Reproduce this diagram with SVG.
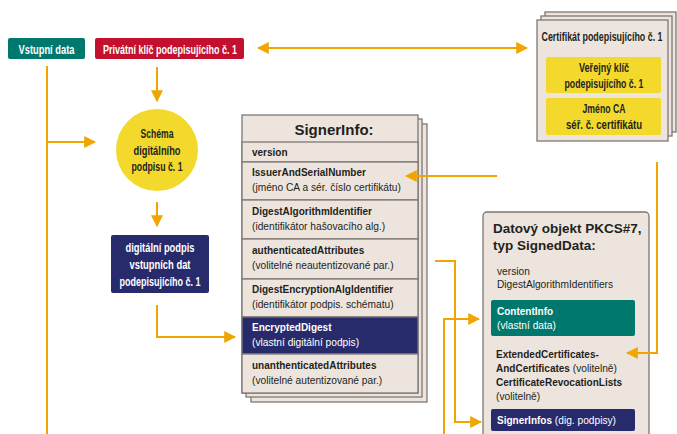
<svg xmlns="http://www.w3.org/2000/svg" width="677" height="434" viewBox="0 0 677 434">
<defs>
<marker id="ah" viewBox="0 0 10 10" refX="9" refY="5" markerWidth="6" markerHeight="6.5" orient="auto-start-reverse" markerUnits="strokeWidth">
<path d="M0,0 L10,5 L0,10 Z" fill="#f0a500"/>
</marker>
<style>
.cn{font-family:"Liberation Sans",Arial,sans-serif;font-weight:bold}
.sb{font-family:"Liberation Sans",Arial,sans-serif;font-weight:bold;font-size:10px;fill:#231f20}
.sr{font-family:"Liberation Sans",Arial,sans-serif;font-size:10.2px;fill:#231f20}
.w{fill:#ffffff}
.d{fill:#231f20}
.box{fill:#ede5dd;stroke:#7d7773;stroke-width:1.3}
.row{fill:#ede5dd;stroke:#7d7773;stroke-width:1.3}
.ln{fill:none;stroke:#f0a500;stroke-width:2}
.yb{fill:#f2d92b}
</style>
</defs>
<rect width="677" height="434" fill="#ffffff"/>

<g id="vstupni-data">
<rect x="8" y="38" width="77" height="21" rx="2" fill="#00786e"/>
<text class="cn w" x="46.5" y="53.5" font-size="13" text-anchor="middle" textLength="56" lengthAdjust="spacingAndGlyphs">Vstupní data</text>
</g>

<g id="privatni-klic">
<rect x="95" y="38" width="149" height="21" rx="2" fill="#c2102e"/>
<text class="cn w" x="170" y="53.5" font-size="13" text-anchor="middle" textLength="134" lengthAdjust="spacingAndGlyphs">Privátní klíč podepisujícího č. 1</text>
</g>

<g id="certifikat">
<rect class="box" x="545" y="12" width="131" height="120"/>
<rect class="box" x="541" y="16" width="131" height="120"/>
<rect class="box" x="537" y="20" width="131" height="121"/>
<text class="cn d" transform="translate(602,41) scale(0.7,1)" x="0" y="0" font-size="12.5" text-anchor="middle" textLength="173" lengthAdjust="spacingAndGlyphs">Certifikát podepisujícího č. 1</text>
<rect class="yb" x="546" y="57" width="115" height="36" rx="2"/>
<text class="cn d" x="604" y="72" font-size="12.5" text-anchor="middle" textLength="50" lengthAdjust="spacingAndGlyphs">Veřejný klíč</text>
<text class="cn d" x="604" y="88" font-size="12.5" text-anchor="middle" textLength="79" lengthAdjust="spacingAndGlyphs">podepisujícího č. 1</text>
<rect class="yb" x="546" y="98" width="115" height="37" rx="2"/>
<text class="cn d" x="604" y="113" font-size="12.5" text-anchor="middle" textLength="43" lengthAdjust="spacingAndGlyphs">Jméno CA</text>
<text class="cn d" x="604" y="129" font-size="12.5" text-anchor="middle" textLength="76" lengthAdjust="spacingAndGlyphs">séř. č. certifikátu</text>
</g>

<g id="schema">
<circle cx="157" cy="150" r="41" fill="#f2d92b"/>
<text class="cn d" x="157" y="138" font-size="12.5" text-anchor="middle" textLength="33" lengthAdjust="spacingAndGlyphs">Schéma</text>
<text class="cn d" x="157" y="155" font-size="12.5" text-anchor="middle" textLength="47" lengthAdjust="spacingAndGlyphs">digitálního</text>
<text class="cn d" x="157" y="171" font-size="12.5" text-anchor="middle" textLength="51" lengthAdjust="spacingAndGlyphs">podpisu č. 1</text>
</g>

<g id="digitalni-podpis">
<rect x="111" y="235" width="98" height="58" rx="2" fill="#272a6b"/>
<text class="cn w" x="160" y="252" font-size="12.5" text-anchor="middle" textLength="69" lengthAdjust="spacingAndGlyphs">digitální podpis</text>
<text class="cn w" x="160" y="269" font-size="12.5" text-anchor="middle" textLength="61" lengthAdjust="spacingAndGlyphs">vstupních dat</text>
<text class="cn w" x="160" y="286" font-size="12.5" text-anchor="middle" textLength="81" lengthAdjust="spacingAndGlyphs">podepisujícího č. 1</text>
</g>

<g id="signerinfo">
<rect class="box" x="251" y="124" width="176" height="278"/>
<rect class="box" x="246" y="119" width="176" height="278"/>
<rect class="box" x="242" y="115" width="176" height="278"/>
<text x="334" y="135" font-family="Liberation Sans, Arial, sans-serif" font-weight="bold" font-size="15" fill="#231f20" text-anchor="middle">SignerInfo:</text>
<rect class="row" x="242" y="142" width="176" height="20"/>
<text class="sb" x="252" y="156">version</text>
<rect class="row" x="242" y="162" width="176" height="38"/>
<text class="sb" x="252" y="176">IssuerAndSerialNumber</text>
<text class="sr" x="252" y="191">(jméno CA a sér. číslo certifikátu)</text>
<rect class="row" x="242" y="200" width="176" height="39"/>
<text class="sb" x="252" y="215">DigestAlgorithmIdentifier</text>
<text class="sr" x="252" y="230">(identifikátor hašovacího alg.)</text>
<rect class="row" x="242" y="239" width="176" height="40"/>
<text class="sb" x="252" y="254">authenticatedAttributes</text>
<text class="sr" x="252" y="269">(volitelné neautentizované par.)</text>
<rect class="row" x="242" y="279" width="176" height="38"/>
<text class="sb" x="252" y="293">DigestEncryptionAlgIdentifier</text>
<text class="sr" x="252" y="308">(identifikátor podpis. schématu)</text>
<rect x="242" y="317" width="176" height="37" fill="#272a6b" stroke="#7d7773" stroke-width="1.3"/>
<text class="sb" x="252" y="331" style="fill:#ffffff">EncryptedDigest</text>
<text class="sr" x="252" y="346" style="fill:#ffffff">(vlastní digitální podpis)</text>
<rect class="row" x="242" y="354" width="176" height="39"/>
<text class="sb" x="252" y="369">unanthenticatedAttributes</text>
<text class="sr" x="252" y="384">(volitelné autentizované par.)</text>
</g>

<g id="pkcs7">
<rect class="box" x="483" y="212" width="166" height="240" rx="4"/>
<text x="493" y="233" font-family="Liberation Sans, Arial, sans-serif" font-weight="bold" font-size="13.5" fill="#231f20">Datový objekt PKCS#7,</text>
<text x="493" y="250" font-family="Liberation Sans, Arial, sans-serif" font-weight="bold" font-size="13.5" fill="#231f20">typ SignedData:</text>
<text class="sr" x="497" y="275">version</text>
<text class="sr" x="497" y="288">DigestAlgorithmIdentifiers</text>
<rect x="491" y="300" width="144" height="36" rx="2" fill="#00786e"/>
<text class="sb" x="497" y="315" style="fill:#ffffff">ContentInfo</text>
<text class="sr" x="497" y="329" style="fill:#ffffff">(vlastní data)</text>
<text class="sb" x="496" y="358">ExtendedCertificates-</text>
<text x="496" y="372"><tspan class="sb">AndCertificates</tspan><tspan class="sr"> (volitelně)</tspan></text>
<text class="sb" x="496" y="386">CertificateRevocationLists</text>
<text class="sr" x="496" y="400">(volitelně)</text>
<rect x="491" y="409" width="144" height="22" rx="2" fill="#272a6b"/>
<text x="497" y="424"><tspan class="sb" style="fill:#ffffff">SignerInfos</tspan><tspan class="sr" style="fill:#ffffff"> (dig. podpisy)</tspan></text>
</g>

<g id="connectors">
<path class="ln" d="M47,66 V434"/>
<path class="ln" d="M47,142 H95" marker-end="url(#ah)"/>
<path class="ln" d="M157,67 V101" marker-end="url(#ah)"/>
<path class="ln" d="M157,202 V226" marker-end="url(#ah)"/>
<path class="ln" d="M157,305 V337 H235" marker-end="url(#ah)"/>
<path class="ln" d="M258,48 H527" marker-start="url(#ah)" marker-end="url(#ah)"/>
<path class="ln" d="M497,176 H406" marker-end="url(#ah)"/>
<path class="ln" d="M657,162 V353 H627" marker-end="url(#ah)"/>
<path class="ln" d="M435,261 H455 V422 H481" marker-end="url(#ah)"/>
<path class="ln" d="M444,434 V319 H479" marker-end="url(#ah)"/>
</g>
</svg>
